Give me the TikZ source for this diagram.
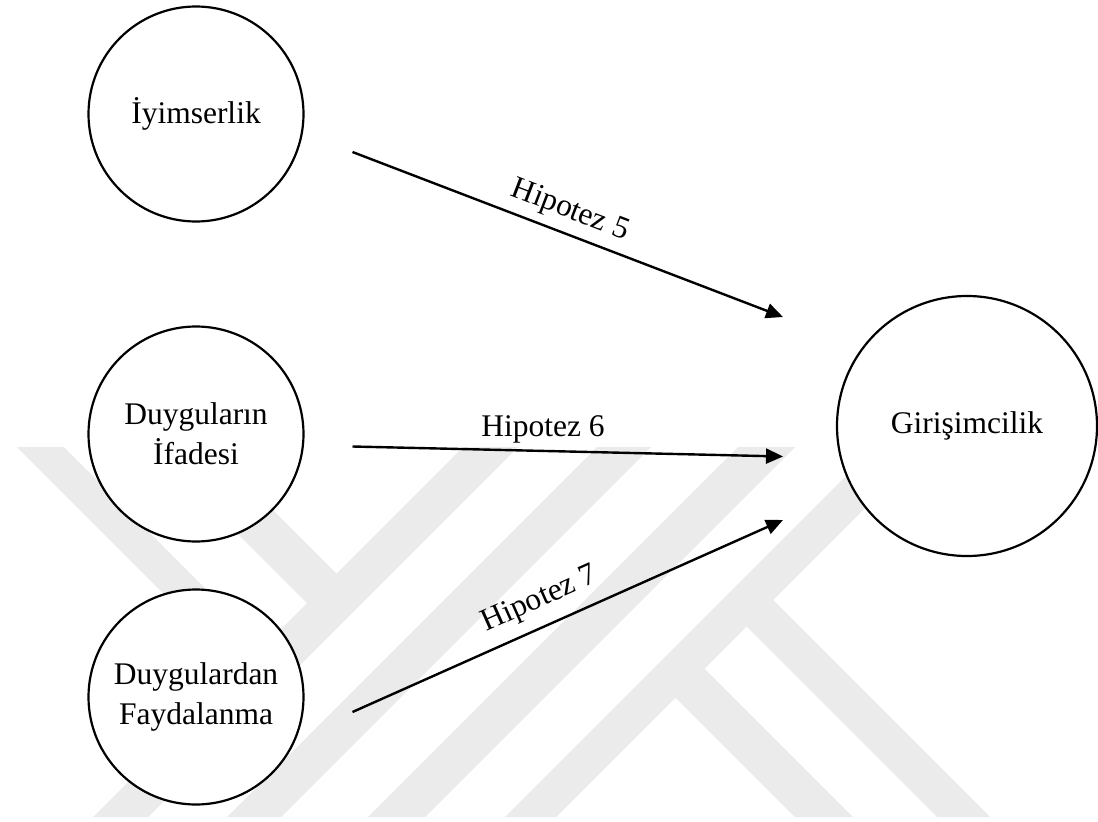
\documentclass[tikz,border=0pt]{standalone}
\usepackage{fontspec}
\setmainfont{Liberation Serif}
\usetikzlibrary{arrows.meta}
\definecolor{wm}{RGB}{235,235,235}
\begin{document}
\begin{tikzpicture}[x=1pt,y=-1pt,
  bubble/.style={circle,draw,line width=2.2pt,fill=white,inner sep=0pt,align=center,
    font=\fontsize{31.5}{40}\selectfont},
  arr/.style={line width=2.4pt,-{Triangle[length=17pt,width=15pt]}},
  lab/.style={inner sep=0pt,font=\fontsize{31.5}{38}\selectfont},
  wmark/.style={fill=wm,draw=none}]
\fill[white,use as bounding box] (0,0) rectangle (1098,822);
% watermark stripes
\path[wmark] (463,447) -- (518,447) -- (148,817) -- (93,817) -- cycle;
\path[wmark] (597,447) -- (651,447) -- (281,817) -- (227,817) -- cycle;
\path[wmark] (738,447) -- (795,447) -- (425,817) -- (368,817) -- cycle;
\path[wmark] (875,447) -- (926,447) -- (556,817) -- (505,817) -- cycle;
\path[wmark] (17,447) -- (64,447) -- (268,651) -- (240,670) -- cycle;
\path[wmark] (151,447) -- (210,447) -- (340,577) -- (307,603) -- cycle;
\path[wmark] (773,600) -- (990,817) -- (937,817) -- (746.5,626.5) -- cycle;
\path[wmark] (704.5,668.5) -- (853,817) -- (795,817) -- (675.5,697.5) -- cycle;
% nodes
\node[bubble,minimum size=215pt] (c1) at (196,114) {İyimserlik};
\node[bubble,minimum size=215pt] (c2) at (196,434) {Duyguların\\İfadesi};
\node[bubble,minimum size=215pt] (c3) at (196,697) {Duygulardan\\Faydalanma};
\node[bubble,minimum size=260pt] (c4) at (967,426) {Girişimcilik};
% connector ends
\coordinate (a5s) at (352.5,152);   \coordinate (a5e) at (783,317);
\coordinate (a6s) at (352.5,446.5); \coordinate (a6e) at (783,456.5);
\coordinate (a7s) at (352.5,712);   \coordinate (a7e) at (783,520);
\draw[arr] (a5s) -- (a5e);
\draw[arr] (a6s) -- (a6e);
\draw[arr] (a7s) -- (a7e);
% labels
\node[lab,rotate=-21] (h5) at (570,211) {Hipotez 5};
\node[lab] (h6) at (543,429) {Hipotez 6};
\node[lab,rotate=24] (h7) at (540,600) {Hipotez 7};
\end{tikzpicture}
\end{document}
